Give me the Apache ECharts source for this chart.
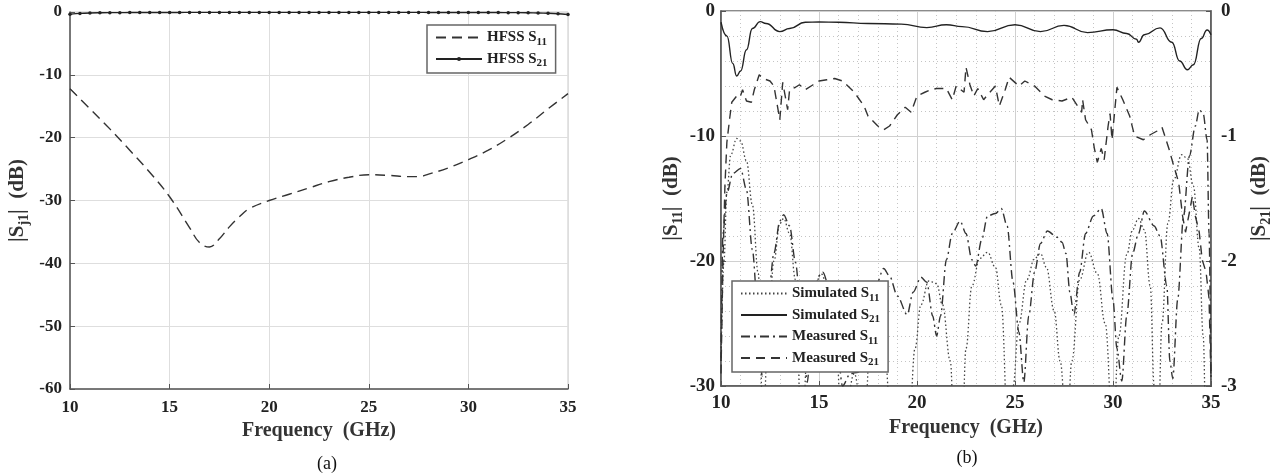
<!DOCTYPE html>
<html>
<head>
<meta charset="utf-8">
<script src="https://cdn.jsdelivr.net/npm/echarts@6/dist/echarts.min.js"></script>
<style>
html,body{margin:0;padding:0;background:#fff;}
#c{width:1274px;height:476px;}
</style>
</head>
<body>
<div id="c"></div>
<script>
// ---------- (a) HFSS ----------
const freqA11 = [10,11,12,13,14,15,16,16.5,17,17.5,18,18.5,19,20,21,22,23,24,25,26,27,27.5,28,29,30,31,32,33,34,35];
const hfssS11 = [-12.2,-15.4,-18.6,-22.0,-25.5,-29.4,-34.3,-36.7,-37.4,-36.1,-34.2,-32.6,-31.3,-30.0,-29.0,-28.0,-27.0,-26.3,-25.9,-26.0,-26.2,-26.2,-25.8,-24.8,-23.5,-22.0,-20.1,-17.9,-15.4,-13.0];
const freqA21 = [10,10.5,11,11.5,12,12.5,13,13.5,14,14.5,15,15.5,16,16.5,17,17.5,18,18.5,19,19.5,20,20.5,21,21.5,22,22.5,23,23.5,24,24.5,25,25.5,26,26.5,27,27.5,28,28.5,29,29.5,30,30.5,31,31.5,32,32.5,33,33.5,34,34.5,35];
const hfssS21 = [-0.35,-0.22,-0.15,-0.12,-0.1,-0.1,-0.09,-0.08,-0.08,-0.07,-0.07,-0.07,-0.06,-0.06,-0.06,-0.06,-0.06,-0.06,-0.06,-0.06,-0.06,-0.06,-0.06,-0.06,-0.06,-0.06,-0.06,-0.06,-0.06,-0.06,-0.06,-0.06,-0.06,-0.06,-0.06,-0.06,-0.07,-0.07,-0.07,-0.07,-0.08,-0.08,-0.08,-0.09,-0.1,-0.1,-0.12,-0.15,-0.2,-0.28,-0.4];
const xTicksA = [10,15,20,25,30,35];
const yTicksA = [0,-10,-20,-30,-40,-50,-60];

// ---------- (b) Simulated / Measured ----------
const freqSimS11 = [10,10.15,10.3,10.5,10.8,11,11.3,11.6,11.9,12.15,12.4,12.7,13,13.2,13.5,13.8,14.1,14.5,14.8,15.1,15.4,15.8,16.2,16.8,17.3,17.6,17.9,18.3,18.7,19.6,19.9,20.2,20.6,21,21.3,21.7,21.9,22.3,22.5,22.8,23.2,23.6,24,24.3,24.65,24.9,25.2,25.6,26,26.3,26.6,27,27.3,27.65,27.9,28.3,28.75,29.2,29.6,30,30.3,30.7,31,31.3,31.6,31.9,32.1,32.3,32.5,32.8,33.1,33.5,33.8,34.1,34.4,34.6,34.75,35];
const simS11 = [-28,-20,-14.5,-11.5,-10.2,-10.4,-12,-15.5,-21,-33,-26,-20,-17,-16.6,-17.8,-21.5,-34,-25,-22,-21,-21.8,-25,-34,-29,-34,-27,-25,-26.5,-33,-33,-27,-23.5,-21.6,-21.8,-23.5,-28,-34,-34,-27,-22,-19.8,-19.3,-20.5,-23.5,-34,-30,-25,-21.5,-19.8,-19.4,-20.5,-24,-28,-34,-28,-21.5,-19.3,-21,-25,-34,-26,-19.5,-17.5,-16.6,-17.5,-22,-30,-34,-25,-17,-13.5,-11.5,-11.8,-14,-19,-26,-34,-30];

const freqSimS21 = [10,10.3,10.6,10.8,11,11.3,11.6,12,12.3,13,13.5,14.3,15,16,17.5,19.2,20.5,21.5,22.3,23.6,25,26.3,27.5,28.7,30,30.7,31.2,31.3,31.6,32.4,33,33.4,33.8,34.1,34.5,34.8,35];
const simS21 = [-0.09,-0.2,-0.42,-0.52,-0.48,-0.31,-0.14,-0.085,-0.1,-0.165,-0.14,-0.09,-0.088,-0.09,-0.1,-0.105,-0.133,-0.11,-0.125,-0.165,-0.11,-0.165,-0.115,-0.173,-0.15,-0.18,-0.226,-0.25,-0.19,-0.135,-0.25,-0.4,-0.47,-0.43,-0.22,-0.152,-0.19];

const freqMeaS11 = [10,10.1,10.3,10.6,11,11.3,11.6,11.9,12.1,12.4,12.7,13,13.2,13.5,13.8,14.1,14.4,14.7,15,15.2,15.5,15.8,16.2,16.6,17,17.5,17.9,18.3,18.6,19,19.5,19.8,20.2,20.5,20.8,21,21.2,21.5,21.8,22.2,22.5,22.8,23,23.3,23.6,24,24.3,24.6,24.9,25.2,25.45,25.7,26,26.3,26.65,27.15,27.4,27.6,27.8,28,28.3,28.6,29,29.4,29.7,30,30.2,30.45,30.7,31,31.3,31.6,32.1,32.4,32.75,32.9,33.05,33.3,33.6,33.9,34.2,34.4,34.6,34.8,34.9,35];
const meaS11 = [-28,-17.8,-14.6,-13,-12.6,-14.3,-19.1,-24.4,-29.2,-23.1,-19.4,-16.8,-16.3,-17.2,-20.1,-24.4,-29.7,-23.1,-21.2,-20.9,-22,-24.4,-30,-29,-28.9,-25.7,-22,-20.6,-21.2,-22.8,-24.3,-22.5,-21.3,-21.7,-24.4,-26,-24.4,-19.9,-17.8,-16.8,-17.8,-19.9,-20.4,-18.3,-16.4,-16.2,-15.8,-17.2,-21.7,-25.7,-29.7,-24.4,-20.9,-18.6,-17.6,-18.1,-18.5,-19.4,-22.5,-24.3,-20.9,-17.8,-16.4,-15.8,-17.8,-23.1,-27,-29.6,-24.4,-19.4,-17.8,-16,-17.2,-18,-22,-28,-29.4,-23.1,-16.4,-11.6,-9.2,-7.9,-8.2,-10.3,-17.8,-29.5];

const freqMeaS21 = [10,10.1,10.2,10.3,10.45,10.55,10.8,10.97,11.1,11.3,11.55,11.7,11.95,12.15,12.5,12.7,13,13.15,13.4,13.5,13.8,14,14.3,14.7,15,15.4,15.8,16.2,16.8,17.3,17.5,18,18.3,18.6,19,19.4,19.7,20,20.4,20.7,21,21.5,21.8,22,22.4,22.5,22.7,22.9,23.1,23.4,23.6,24,24.2,24.5,24.7,25.2,25.5,26,26.5,26.9,27.4,27.9,28.4,28.45,28.6,28.9,29.05,29.2,29.4,29.55,29.75,29.85,29.95,30.2,30.5,30.85,31.1,31.55,31.9,32.25,32.5,32.85,33.1,33.35,33.55,33.7,33.9,34.05,34.2,34.4,34.55,34.75,34.9,35];
const meaS21 = [-2.9,-2.0,-1.4,-1.05,-0.85,-0.73,-0.68,-0.69,-0.63,-0.72,-0.73,-0.63,-0.51,-0.54,-0.56,-0.6,-0.87,-0.57,-0.79,-0.63,-0.61,-0.59,-0.63,-0.59,-0.56,-0.55,-0.54,-0.56,-0.65,-0.76,-0.84,-0.92,-0.95,-0.92,-0.83,-0.77,-0.81,-0.68,-0.65,-0.63,-0.62,-0.62,-0.71,-0.6,-0.65,-0.45,-0.59,-0.68,-0.62,-0.71,-0.67,-0.6,-0.76,-0.63,-0.53,-0.6,-0.56,-0.6,-0.68,-0.71,-0.72,-0.69,-0.81,-0.71,-0.87,-0.95,-1.1,-1.21,-1.1,-1.19,-0.92,-0.82,-1.03,-0.61,-0.71,-0.84,-1.0,-1.03,-0.99,-0.96,-0.93,-1.1,-1.24,-1.37,-1.64,-1.77,-1.61,-1.48,-1.64,-1.77,-1.99,-2.09,-2.3,-2.95];

const xTicksB = [10,15,20,25,30,35];
const yTicksB11 = [0,-10,-20,-30];
const yTicksB21 = [0,-1,-2,-3];

// ---------- styling ----------
const SERIF = "'Liberation Serif','DejaVu Serif',serif";
const INK = '#222';
const AXIS = '#555';
function pairs(xs, ys){ return xs.map((x,i)=>[x, ys[i]]); }
const subRich = {
  t:{fontFamily:SERIF,fontWeight:'bold',fontSize:15,color:INK,lineHeight:20},
  s:{fontFamily:SERIF,fontWeight:'bold',fontSize:11,color:INK,lineHeight:11,verticalAlign:'bottom'}
};
const nameRich = {
  t:{fontFamily:SERIF,fontWeight:'bold',fontSize:21,color:'#333',lineHeight:26},
  s:{fontFamily:SERIF,fontWeight:'bold',fontSize:14,color:'#333',lineHeight:13,verticalAlign:'bottom'}
};
function legendFmt(name){
  const m = name.match(/^(.*S)(\d+)$/);
  return m ? '{t|'+m[1]+'}{s|'+m[2]+'}' : '{t|'+name+'}';
}
function tickLabel(size){
  return {color:INK,fontFamily:SERIF,fontWeight:'bold',fontSize:size};
}
const noMark = {opacity:0};

const chart = echarts.init(document.getElementById('c'), null, {renderer:'canvas'});
chart.setOption({
  animation:false,
  backgroundColor:'#fff',
  grid:[
    {left:70, top:12, width:498, height:377, show:true, borderColor:'#c8c8c8', borderWidth:1, backgroundColor:'rgba(0,0,0,0)'},
    {left:721, top:11, width:494, height:375, show:true, borderColor:'#666', borderWidth:1.5, backgroundColor:'rgba(0,0,0,0)'}
  ],
  xAxis:[
    {gridIndex:0, type:'value', min:xTicksA[0], max:xTicksA[xTicksA.length-1], interval:5,
     axisLine:{show:true,onZero:false,lineStyle:{color:AXIS,width:1.5}},
     axisTick:{show:true,inside:true,length:5,lineStyle:{color:AXIS}},
     axisLabel:Object.assign({margin:10},tickLabel(17)),
     splitLine:{show:true,lineStyle:{color:'#dedede',width:1}},
     name:'Frequency  (GHz)', nameLocation:'middle', nameGap:29,
     nameTextStyle:{fontFamily:SERIF,fontWeight:'bold',fontSize:20,color:'#333'}},
    {gridIndex:1, type:'value', min:xTicksB[0], max:xTicksB[xTicksB.length-1], interval:5,
     axisLine:{show:true,onZero:false,lineStyle:{color:AXIS,width:1.5}},
     axisTick:{show:true,inside:true,length:5,lineStyle:{color:AXIS}},
     axisLabel:Object.assign({margin:8},tickLabel(19)),
     splitLine:{show:true,lineStyle:{color:'#d0d0d0',width:1}},
     minorTick:{show:false,splitNumber:5},
     minorSplitLine:{show:true,lineStyle:{color:'#c4c4c4',width:1,type:[1,3]}},
     name:'Frequency  (GHz)', nameLocation:'middle', nameGap:28,
     nameTextStyle:{fontFamily:SERIF,fontWeight:'bold',fontSize:20,color:'#333'}}
  ],
  yAxis:[
    {gridIndex:0, type:'value', min:yTicksA[yTicksA.length-1], max:yTicksA[0], interval:10,
     axisLine:{show:true,onZero:false,lineStyle:{color:AXIS,width:1.5}},
     axisTick:{show:true,inside:true,length:5,lineStyle:{color:AXIS}},
     axisLabel:Object.assign({margin:8},tickLabel(17)),
     splitLine:{show:true,lineStyle:{color:'#dedede',width:1}},
     name:'{t||S}{s|j1}{t||  (dB)}', nameLocation:'middle', nameGap:39, nameRotate:90,
     nameTextStyle:{rich:nameRich}},
    {gridIndex:1, type:'value', min:yTicksB11[yTicksB11.length-1], max:yTicksB11[0], interval:10,
     axisLine:{show:true,onZero:false,lineStyle:{color:AXIS,width:1.5}},
     axisTick:{show:true,inside:true,length:5,lineStyle:{color:AXIS}},
     axisLabel:Object.assign({margin:6},tickLabel(19)),
     splitLine:{show:true,lineStyle:{color:'#d0d0d0',width:1}},
     minorTick:{show:false,splitNumber:5},
     minorSplitLine:{show:true,lineStyle:{color:'#c4c4c4',width:1,type:[1,3]}},
     name:'{t||S}{s|11}{t||  (dB)}', nameLocation:'middle', nameGap:36, nameRotate:90,
     nameTextStyle:{rich:nameRich}},
    {gridIndex:1, type:'value', position:'right', min:yTicksB21[yTicksB21.length-1], max:yTicksB21[0], interval:1,
     axisLine:{show:true,onZero:false,lineStyle:{color:AXIS,width:1.5}},
     axisTick:{show:true,inside:true,length:5,lineStyle:{color:AXIS}},
     axisLabel:Object.assign({margin:10},tickLabel(19)),
     splitLine:{show:false},
     name:'{t||S}{s|21}{t||  (dB)}', nameLocation:'middle', nameGap:36, nameRotate:90,
     nameTextStyle:{rich:nameRich}}
  ],
  legend:[
    {left:427, top:25, orient:'vertical', itemWidth:46, itemHeight:5, itemGap:4, padding:[5,8,4,8],
     backgroundColor:'#fff', borderColor:'#666', borderWidth:1.5, borderRadius:0,
     data:[{name:'HFSS S11', itemStyle:noMark},{name:'HFSS S21'}],
     formatter:legendFmt, textStyle:{rich:subRich}, selectedMode:false},
    {left:732, top:281, orient:'vertical', itemWidth:46, itemHeight:5, itemGap:4, padding:[5,8,4,8],
     backgroundColor:'#fff', borderColor:'#666', borderWidth:1.5, borderRadius:0,
     data:[{name:'Simulated S11', itemStyle:noMark},{name:'Simulated S21', itemStyle:noMark},{name:'Measured S11', itemStyle:noMark},{name:'Measured S21', itemStyle:noMark}],
     formatter:legendFmt, textStyle:{rich:subRich}, selectedMode:false}
  ],
  graphic:[
    {type:'text', silent:true, style:{x:327, y:464, text:'(a)', textAlign:'center', textVerticalAlign:'middle', fontFamily:SERIF, fontSize:18, fill:'#111'}},
    {type:'text', silent:true, style:{x:967, y:458, text:'(b)', textAlign:'center', textVerticalAlign:'middle', fontFamily:SERIF, fontSize:18, fill:'#111'}}
  ],
  series:[
    {name:'HFSS S11', type:'line', xAxisIndex:0, yAxisIndex:0, data:pairs(freqA11,hfssS11), smooth:0.4, symbol:'none',
     lineStyle:{color:'#333',width:1.4,type:[10,6]}, itemStyle:{color:'#333'}, silent:true},
    {name:'HFSS S21', type:'line', xAxisIndex:0, yAxisIndex:0, data:pairs(freqA21,hfssS21), smooth:0.3, symbol:'circle', symbolSize:3.5, showSymbol:true,
     lineStyle:{color:'#222',width:1.4}, itemStyle:{color:'#222'}, silent:true},
    {name:'Simulated S11', type:'line', xAxisIndex:1, yAxisIndex:1, data:pairs(freqSimS11,simS11), smooth:0.4, smoothMonotone:'x', symbol:'none',
     lineStyle:{color:'#444',width:1.3,type:[1.5,2.5]}, itemStyle:{color:'#444'}, silent:true},
    {name:'Simulated S21', type:'line', xAxisIndex:1, yAxisIndex:2, data:pairs(freqSimS21,simS21), smooth:0.5, smoothMonotone:'x', symbol:'none',
     lineStyle:{color:'#222',width:1.4}, itemStyle:{color:'#222'}, silent:true},
    {name:'Measured S11', type:'line', xAxisIndex:1, yAxisIndex:1, data:pairs(freqMeaS11,meaS11), smooth:0.3, smoothMonotone:'x', symbol:'none',
     lineStyle:{color:'#333',width:1.4,type:[9,4,2,4]}, itemStyle:{color:'#333'}, silent:true},
    {name:'Measured S21', type:'line', xAxisIndex:1, yAxisIndex:2, data:pairs(freqMeaS21,meaS21), smooth:false, symbol:'none',
     lineStyle:{color:'#333',width:1.4,type:[9,6]}, itemStyle:{color:'#333'}, silent:true}
  ]
});
</script>
</body>
</html>
